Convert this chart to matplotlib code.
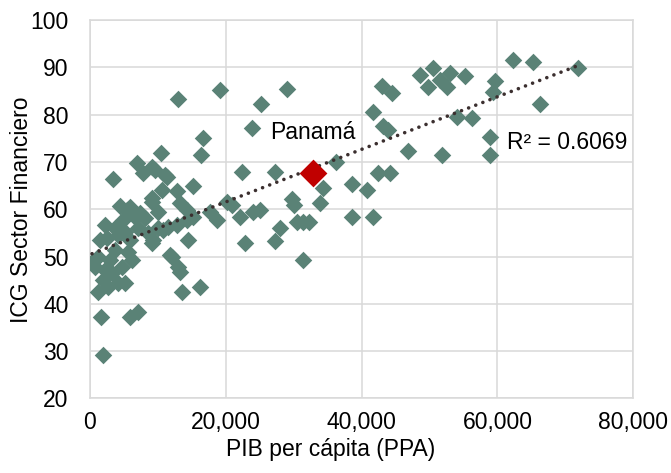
import matplotlib.pyplot as plt
import numpy as np
from matplotlib.ticker import FuncFormatter, MultipleLocator

plt.rcParams['font.family'] = ['Liberation Sans', 'DejaVu Sans']

# PIB per cápita (PPA) y ICG sector financiero, por país
pib = [13015, 19190, 25220, 29044, 23900, 16690, 10515, 16400, 3456, 22430,
       27280, 15220, 6985, 9190, 9630, 11100, 7870, 11400, 12870, 10660,
       9190, 5960, 13310, 43015, 44490, 41690, 43160, 43900, 46840, 51840,
       54040, 56250, 48600, 50515, 49780, 51540, 53015, 52570, 55220, 59630,
       59340, 62280, 65220, 71840, 66250, 58900, 58900, 42430, 44190, 38600,
       40810, 38600, 41690, 36250, 34340, 33900, 29780, 30070, 30515, 31440,
       32280, 28015, 27280, 31440, 25070, 24040, 22130, 22870, 20220, 20960,
       17720, 18750, 14340, 14340, 15220, 14490, 11570, 12870, 9340, 12130,
       13015, 13310, 13600, 16250, 11840, 1690, 5960, 7130, 1990, 5515,
       9190, 2280, 2570, 4190, 5220, 4930, 6690, 7430, 5660, 6250,
       5220, 1250, 2720, 810, 1250, 3310, 4190, 1990, 4780, 8600,
       9190, 3020, 3750, 2280, 370, 5960, 8160, 10070, 4490, 7130,
       10070, 10810, 3750, 1540]
icg = [83.3, 85.2, 82.2, 85.4, 77.2, 75.1, 71.9, 71.5, 66.4, 67.9,
       67.9, 64.9, 69.8, 68.9, 68.3, 67.2, 67.7, 66.8, 63.8, 64.1,
       62.4, 60.5, 61.3, 86.0, 84.6, 80.5, 77.6, 76.7, 72.3, 71.5,
       79.5, 79.3, 88.4, 89.9, 85.8, 87.3, 88.8, 85.8, 88.2, 87.1,
       84.8, 91.5, 91.1, 89.8, 82.2, 75.3, 71.5, 67.7, 67.7, 65.3,
       64.1, 58.4, 58.4, 70.0, 64.5, 61.3, 62.2, 60.9, 57.3, 57.3,
       57.3, 56.0, 53.3, 49.3, 59.8, 59.4, 58.4, 52.9, 61.5, 60.9,
       59.4, 57.7, 59.8, 57.7, 58.4, 53.5, 56.2, 56.7, 53.5, 49.9,
       47.8, 46.7, 42.5, 43.6, 50.3, 37.2, 37.2, 38.3, 29.2, 59.8,
       61.5, 56.7, 53.9, 54.5, 55.2, 57.7, 58.4, 59.2, 51.0, 49.3,
       44.4, 42.5, 43.6, 47.8, 49.9, 46.5, 44.4, 45.0, 47.8, 55.0,
       52.9, 49.3, 51.4, 47.1, 48.8, 53.5, 58.1, 59.4, 60.7, 56.0,
       56.0, 55.6, 56.0, 53.5]

panama_pib = 32870
panama_icg = 67.6

fig = plt.figure(figsize=(6.71, 4.73), dpi=100)
ax = fig.add_axes([0.1334, 0.1577, 0.8107, 0.8])

gris = '#d9d9d9'
verde = '#5a8276'
fs = 16.5

ax.grid(True, color=gris, linewidth=1.1, zorder=0)
for s in ax.spines.values():
    s.set_color(gris)
    s.set_linewidth(1.1)

ax.scatter(pib, icg, marker='D', s=80, color=verde, linewidths=0, zorder=3)

# linea de tendencia lineal
todos_x = np.array(pib + [panama_pib])
todos_y = np.array(icg + [panama_icg])
m, b = np.polyfit(todos_x, todos_y, 1)
xs = np.array([todos_x.min(), todos_x.max()])
ax.plot(xs, m * xs + b, color='#3b2f2f', linewidth=2.6,
        linestyle=(0, (0.01, 2.1)), dash_capstyle='round', zorder=4)

ax.scatter([panama_pib], [panama_icg], marker='D', s=200, color='#c00000',
           linewidths=0, zorder=5)

ax.text(32900, 76.3, 'Panamá', fontsize=fs, ha='center', va='center')
ax.text(61400, 74.2, 'R² = 0.6069', fontsize=fs, ha='left', va='center')

ax.set_xlim(0, 80000)
ax.set_ylim(20, 100)
ax.xaxis.set_major_locator(MultipleLocator(20000))
ax.yaxis.set_major_locator(MultipleLocator(10))
ax.xaxis.set_major_formatter(FuncFormatter(lambda v, p: f'{int(v):,}'))
ax.tick_params(axis='both', length=0, labelsize=fs, colors='black')
ax.tick_params(axis='x', pad=9)
ax.tick_params(axis='y', pad=15)

fig.text(331 / 671, 1 - 449 / 473, 'PIB per cápita (PPA)', fontsize=fs,
         ha='center', va='center')
fig.text(22 / 671, 1 - 210 / 473, 'ICG Sector Financiero', fontsize=fs,
         ha='center', va='center', rotation=90)

fig.savefig('out.png', dpi=100)
